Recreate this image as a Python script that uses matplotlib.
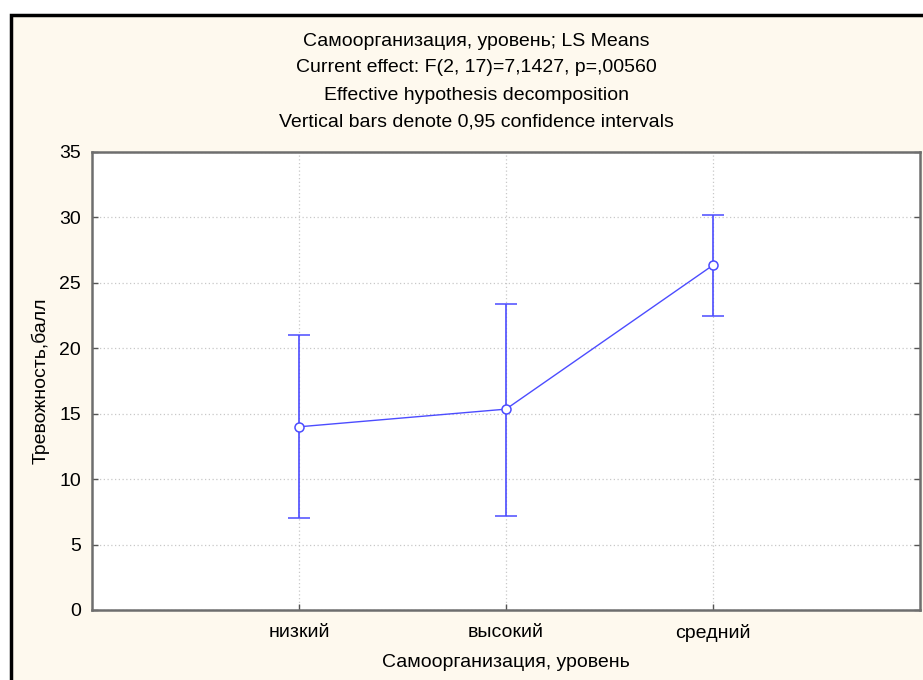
import matplotlib
matplotlib.use("Agg")
import matplotlib.pyplot as plt
from matplotlib.patches import Rectangle

plt.rcParams['font.family'] = ['Liberation Sans', 'DejaVu Sans']

# LS means with 0.95 confidence limits
categories = ["низкий", "высокий", "средний"]
means = [14.0, 15.35, 26.35]
ci_upper = [21.0, 23.4, 30.2]
ci_lower = [7.0, 7.2, 22.5]

title_lines = [
    "Самоорганизация, уровень; LS Means",
    "Current effect: F(2, 17)=7,1427, p=,00560",
    "Effective hypothesis decomposition",
    "Vertical bars denote 0,95 confidence intervals",
]
x_label = "Самоорганизация, уровень"
y_label = "Тревожность,балл"
y_ticks = [0, 5, 10, 15, 20, 25, 30, 35]

W, H = 923, 680
fig = plt.figure(figsize=(W / 100, H / 100), dpi=100)
fig.patch.set_facecolor("white")

# cream panel with a dark frame on the left and top
fig.patches.append(Rectangle((11 / W, -0.1), 1.2, 1.1 - 15 / H,
                             transform=fig.transFigure, facecolor="#FEF9EE",
                             edgecolor="black", linewidth=2.5, zorder=-10))

ax = fig.add_axes([92 / W, 1 - 610 / H, (920 - 92) / W, (610 - 152) / H])
ax.set_zorder(2)
ax.set_facecolor("white")

x = list(range(len(categories)))
yerr = [[m - lo for m, lo in zip(means, ci_lower)],
        [hi - m for m, hi in zip(means, ci_upper)]]
blue = "#4C4CFF"
ax.errorbar(x, means, yerr=yerr, color=blue, ecolor=blue, elinewidth=1.2,
            capsize=8, capthick=1.2, linewidth=1.0, marker="o",
            markersize=6.5, markerfacecolor="white", markeredgecolor=blue,
            markeredgewidth=1.1, zorder=3)

fs = 14
ax.set_xlim(-1, 3)
ax.set_ylim(0, 35)
ax.set_xticks(x)
ax.set_xticklabels(categories, fontsize=fs)
ax.set_yticks(y_ticks)
ax.set_yticklabels([str(v) for v in y_ticks], fontsize=fs)
ax.tick_params(axis="both", direction="in", length=4, color="#555555",
               width=1.0, right=True)
ax.tick_params(axis="x", pad=10)
ax.tick_params(axis="y", pad=8)

ax.grid(True, linestyle=(0, (1, 2)), color="#C8C8C8", linewidth=0.9)
ax.set_axisbelow(True)
for s in ax.spines.values():
    s.set_color("#6E6E6E")
    s.set_linewidth(1.8)

ax.set_xlabel(x_label, fontsize=fs, labelpad=9)
ax.set_ylabel(y_label, fontsize=fs, labelpad=7)

for i, line in enumerate(title_lines):
    fig.text(476 / W, 1 - (41 + 27 * i) / H, line, ha="center", va="center",
             fontsize=fs)

fig.savefig("out.png", dpi=100, facecolor=fig.get_facecolor())
